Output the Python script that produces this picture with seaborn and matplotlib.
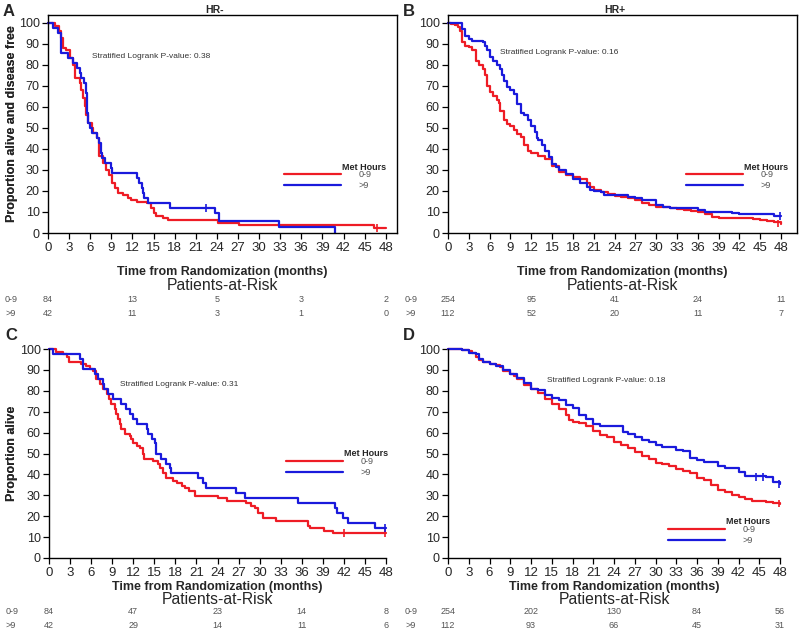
import numpy as np
import pandas as pd
import matplotlib
matplotlib.use('Agg')
import matplotlib.pyplot as plt
import matplotlib.transforms as mtransforms
import seaborn as sns

# 曲线数据（从图上读取的阶梯点：时间-月，生存比例-%）
a_red_t = [0, 1.0, 1.5, 1.8, 2.1, 2.6, 3.1, 3.5, 3.8, 4.5, 4.7, 5.0, 5.2, 5.4, 5.7, 6.2, 6.4, 6.9, 7.2, 7.3, 7.8, 8.3, 8.7,
           9.1, 9.5, 10.0, 10.7, 11.4, 11.8, 12.6, 14.0, 14.7, 15.0, 15.4, 16.4, 17.1, 24.2, 27.2, 46.4, 48]
a_red_s = [100, 98.8, 96.4, 92.9, 88.1, 86.9, 83.3, 79.8, 73.8, 71.4, 67.9, 64.3, 60.7, 56.0, 52.4, 50.0, 47.6, 45.2, 40.5,
           36.9, 33.3, 29.8, 27.4, 23.8, 21.4, 19.0, 17.9, 16.7, 15.5, 14.9, 14.3, 11.9, 9.5, 8.3, 7.1, 6.0, 4.8, 3.6, 2.4, 2.4]
a_blue_t = [0, 0.7, 1.4, 1.8, 1.9, 2.8, 3.5, 4.1, 4.5, 4.7, 5.1, 5.4, 5.5, 5.6, 5.7, 5.9, 6.3, 6.9, 7.3, 7.6, 7.7, 8.1, 9.0,
            9.1, 12.6, 13.0, 13.4, 13.5, 13.7, 14.2, 17.3, 23.8, 24.3, 32.8, 40.8]
a_blue_s = [100, 97.6, 95.2, 92.9, 85.7, 83.3, 81.0, 78.6, 76.2, 73.8, 71.4, 66.7, 61.9, 57.1, 52.4, 50.0, 47.6, 45.2, 42.9,
            38.1, 35.7, 33.3, 31.0, 28.6, 26.2, 23.8, 21.4, 19.0, 16.7, 14.3, 11.9, 9.5, 5.9, 2.9, 0]

b_red_t = [0, 0.5, 1.0, 1.5, 1.8, 2.0, 2.5, 3.0, 3.5, 4.0, 4.5, 5.0, 5.3, 5.6, 6.0, 6.5, 7.0, 7.3, 7.5, 8.0, 8.5, 9.0, 9.5,
           10.0, 10.5, 11.0, 11.5, 12.0, 13.0, 14.0, 15.0, 16.0, 17.0, 18.0, 19.0, 20.0, 20.5, 21.0, 22, 23, 24, 25, 26,
           27, 28, 29, 30, 31, 32, 33, 34, 35, 36, 37, 38, 39, 43, 44, 45, 46, 47, 48]
b_red_s = [100, 99.5, 99, 98, 96, 91, 89, 88.5, 87, 82, 80, 78, 75, 70, 67, 65, 63.5, 62, 58, 54, 52, 51, 49, 47, 45.5, 42,
           39, 38, 36.5, 35, 32, 29, 27.5, 26.5, 25.5, 24, 22, 20.5, 19.5, 18.5, 17.5, 17, 16.5, 15.5, 14.5, 13.5, 12.5,
           12.3, 12, 11.5, 11, 10.5, 10, 9, 7.5, 7.3, 7.3, 6.5, 6, 5.5, 5, 4.5]
b_blue_t = [0, 1.8, 2.0, 2.5, 3.0, 3.5, 5.0, 5.3, 5.6, 6, 6.5, 7, 7.5, 7.8, 8, 8.5, 9, 9.5, 10, 10.5, 11, 11.5, 12, 12.5,
            12.8, 13, 13.5, 14, 14.5, 15, 15.5, 16, 17, 18, 19, 20, 20.5, 21, 22, 22.5, 26, 27, 28, 30, 31, 32, 36, 37,
            41, 42, 47, 48]
b_blue_s = [100, 100, 97, 94, 92.5, 91.5, 91, 89, 87, 84, 82, 80, 78, 75, 72.5, 69.5, 68, 66, 61.5, 57, 56, 54, 51, 48,
            45, 44.5, 42, 39, 36, 33, 31.5, 30, 28, 25.5, 24, 22, 20.5, 20, 19.5, 18, 17, 16.5, 15.5, 13.5, 12.5, 12, 11,
            10, 9.5, 9, 8, 8]

c_red_t = [0, 1.0, 2.0, 2.5, 2.9, 4.6, 5.2, 5.8, 6.3, 6.7, 7.2, 7.7, 8.2, 8.6, 8.9, 9.4, 9.6, 9.8, 10.1, 10.3, 10.8, 11.5,
           11.7, 12.0, 12.5, 12.9, 13.4, 13.6, 14.8, 15.5, 15.8, 16.3, 16.7, 17.7, 18.2, 18.9, 19.3, 20.0, 20.8, 24.1,
           25.3, 28.1, 28.8, 29.3, 29.8, 30.5, 32.4, 36.9, 37.2, 39.1, 40.5, 48]
c_red_s = [100, 98.8, 97.6, 96.4, 94.0, 92.9, 91.7, 90.5, 89.3, 85.7, 83.3, 81.0, 78.6, 76.2, 73.8, 71.4, 69.0, 66.7, 64.3,
           61.9, 59.5, 58.3, 57.1, 54.8, 53.6, 52.4, 50.0, 47.6, 46.4, 45.2, 42.9, 40.5, 38.1, 36.9, 35.7, 34.5, 33.3,
           32.1, 29.8, 28.6, 27.4, 26.2, 25.0, 23.8, 21.4, 19.0, 17.9, 15.5, 14.3, 13.1, 11.9, 11.9]
c_blue_t = [0, 0.6, 4.4, 4.8, 6.5, 7.0, 7.7, 7.9, 8.4, 9.1, 10.3, 11.0, 11.5, 12.0, 12.5, 13.9, 14.1, 14.6, 15.1, 15.3,
            16.0, 16.7, 17.2, 17.4, 21.2, 21.9, 22.4, 26.7, 27.9, 35.5, 40.7, 41.0, 41.9, 42.6, 46.5, 48]
c_blue_s = [100, 97.6, 95.2, 90.5, 88.1, 85.7, 83.3, 81.0, 78.6, 76.2, 73.8, 71.4, 69.0, 66.7, 64.3, 61.9, 59.5, 57.1,
            54.8, 50.0, 47.6, 45.2, 42.9, 40.5, 38.1, 35.7, 33.3, 30.9, 28.6, 26.2, 23.8, 21.4, 19.0, 16.7, 14.3, 14.3]

d_red_t = [0, 2, 3, 3.5, 4, 4.5, 5, 6, 7, 7.5, 8, 9, 9.5, 10, 11, 12, 13, 14, 15, 16, 17, 17.5, 18, 19, 20, 21, 22, 23,
           24, 25, 26, 27, 28, 29, 30, 31, 32, 33, 34, 35, 36, 37, 38, 39, 40, 41, 42, 43, 44, 45, 46, 47, 48]
d_red_s = [100, 99.5, 99, 98, 96, 94.5, 94, 93, 92.5, 91.5, 89.5, 88, 87, 85.5, 83, 81, 79, 76, 73.5, 71.5, 68.5, 66, 65,
           64.5, 63, 61, 59, 58, 55.5, 54, 52.5, 50.5, 49, 47.5, 45.5, 44.8, 44, 42.5, 41.5, 40.5, 38.5, 37.5, 35, 32.5,
           31.5, 30, 29, 28.2, 27.5, 27.2, 27, 26.5, 26]
d_blue_t = [0, 2, 3, 4, 4.5, 5, 6, 7, 8, 9, 10, 11, 12, 13, 14, 15, 16, 17, 18, 19, 20, 21, 22, 25.3, 26, 27, 28, 29, 30,
            31, 33, 34, 35, 36, 37, 39, 40, 42, 43, 46, 47, 48]
d_blue_s = [100, 99.5, 98.2, 97.5, 95, 94, 93, 92, 90, 88, 86, 83.5, 81, 80.5, 78, 76.5, 75.5, 73, 72, 68.5, 66.5, 64,
            63, 60.5, 59.5, 58, 56.5, 55.5, 54, 53, 51.5, 51, 48, 47, 46, 44, 43, 41, 39, 38.8, 36.5, 35.5]

# 删失标记（能看清的几处）
a_cens = [[46.8], [2.4], [22.4], [11.9]]          # 红 t, 红 s, 蓝 t, 蓝 s
b_cens = [[47.5], [4.5], [47.8], [8.0]]
c_cens = [[42.0, 47.8], [11.9, 11.9], [47.8], [14.3]]
d_cens = [[47.8], [26.0], [44.5, 45.5, 47.8], [38.8, 38.8, 35.5]]

# 风险人数表
risk_t = [0, 12, 24, 36, 48]
a_risk = [[84, 13, 5, 3, 2], [42, 11, 3, 1, 0]]
b_risk = [[254, 95, 41, 24, 11], [112, 52, 20, 11, 7]]
c_risk = [[84, 47, 23, 14, 8], [42, 29, 14, 11, 6]]
d_risk = [[254, 202, 130, 84, 56], [112, 93, 66, 45, 31]]

groups = ['0-9', '>9']
pvals = ['0.38', '0.16', '0.31', '0.18']

sns.set_style('ticks')
plt.rcParams['font.family'] = ['Liberation Sans', 'DejaVu Sans']
plt.rcParams['axes.linewidth'] = 1.0

W, H = 800, 644
fig = plt.figure(figsize=(8, 6.44), dpi=100)
fx = lambda x: x / W
fy = lambda y: 1 - y / H

red, blue = '#ee1c25', '#1a1adc'
gray = '#555555'

# 每个面板：曲线、位置(px)、坐标范围、文字位置
panels = [
    dict(letter='A', title='HR-', curves=(a_red_t, a_red_s, a_blue_t, a_blue_s), cens=a_cens, risk=a_risk,
         box=(48, 397, 15, 233), xmax=49.6, ymax=103.8, full=True, ylab='Proportion alive and disease free',
         pv=(92, 57), leg=(284, 176), rows=(272, 286, 299, 313), lx=3, ly=11),
    dict(letter='B', title='HR+', curves=(b_red_t, b_red_s, b_blue_t, b_blue_s), cens=b_cens, risk=b_risk,
         box=(448, 797, 15, 233), xmax=50.3, ymax=103.8, full=True, ylab='Proportion alive and disease free',
         pv=(500, 53), leg=(686, 176), rows=(272, 286, 299, 313), lx=403, ly=11),
    dict(letter='C', title=None, curves=(c_red_t, c_red_s, c_blue_t, c_blue_s), cens=c_cens, risk=c_risk,
         box=(49, 386, 349, 558), xmax=48, ymax=100, full=False, ylab='Proportion alive',
         pv=(120, 385), leg=(286, 463), rows=(587, 599, 612, 626), lx=5, ly=335),
    dict(letter='D', title=None, curves=(d_red_t, d_red_s, d_blue_t, d_blue_s), cens=d_cens, risk=d_risk,
         box=(448, 780, 349, 558), xmax=48, ymax=100, full=False, ylab='Proportion alive',
         pv=(547, 380), leg=(668, 531), rows=(587, 599, 612, 626), lx=403, ly=335),
]

for i, p in enumerate(panels):
    l, r, t, b = p['box']
    ax = fig.add_axes([fx(l), fy(b), (r - l) / W, (b - t) / H])
    rt, rs, bt, bs = p['curves']
    df = pd.concat([pd.DataFrame({'t': rt, 's': rs, 'grp': groups[0]}),
                    pd.DataFrame({'t': bt, 's': bs, 'grp': groups[1]})])
    sns.lineplot(data=df, x='t', y='s', hue='grp', palette={groups[0]: red, groups[1]: blue},
                 drawstyle='steps-post', estimator=None, lw=1.6, legend=False, ax=ax)
    for ln in ax.get_lines():
        ln.set_clip_on(False)
    crt, crs, cbt, cbs = p['cens']
    cdf = pd.concat([pd.DataFrame({'t': crt, 's': crs, 'grp': groups[0]}),
                     pd.DataFrame({'t': cbt, 's': cbs, 'grp': groups[1]})])
    sns.scatterplot(data=cdf, x='t', y='s', hue='grp', palette={groups[0]: red, groups[1]: blue},
                    marker='|', s=30, linewidth=1.2, legend=False, ax=ax, clip_on=False)

    ax.set_xlim(0, p['xmax'])
    ax.set_ylim(0, p['ymax'])
    ax.set_xticks(range(0, 49, 3))
    ax.set_yticks(range(0, 101, 10))
    ax.tick_params(axis='x', labelsize=9.5, length=4, width=0.9, pad=2.5, color='black')
    ax.tick_params(axis='y', labelsize=9, length=4, width=0.9, pad=2, color='black')
    if p['full']:
        for s in ax.spines.values():
            s.set_visible(True)
            s.set_color('black')
    else:
        ax.spines['top'].set_visible(False)
        ax.spines['right'].set_visible(False)
        ax.spines['left'].set_color('black')
        ax.spines['bottom'].set_color('black')
        ax.spines['left'].set_bounds(0, 100)
        ax.spines['bottom'].set_bounds(0, 48)

    ax.set_xlabel('Time from Randomization (months)', fontsize=9, fontweight='bold')
    ax.xaxis.set_label_coords(0.5, (b - p['rows'][0]) / (b - t))
    ax.xaxis.label.set_va('center')
    ax.set_ylabel(p['ylab'], fontsize=9, fontweight='bold')
    ax.yaxis.set_label_coords((12 - l) / (r - l), 0.5)
    ax.yaxis.label.set_va('center')

    # 图例：线段 + 标签，标题单独放在标签上方
    lgx, lgy = p['leg']
    lg = ax.legend(ax.get_lines()[:2], groups, loc='upper left',
                   bbox_to_anchor=((lgx - l) / (r - l), (b - lgy + 6) / (b - t)), frameon=False, fontsize=6.5,
                   handlelength=6.3, handletextpad=2.0, labelspacing=0.2, borderpad=0,
                   borderaxespad=0, labelcolor=gray)
    fig.text(fx(lgx + 80), fy(lgy - 9), 'Met Hours', fontsize=6.5, fontweight='bold', ha='center', va='center')

    fig.text(fx(p['pv'][0]), fy(p['pv'][1]), 'Stratified Logrank P-value: ' + pvals[i],
             fontsize=6, color='#333333', va='center', ha='left')
    fig.text(fx(p['lx']), fy(p['ly']), p['letter'], fontsize=12, fontweight='bold', va='center', ha='left')
    if p['title']:
        fig.text(fx((l + r) / 2 - 8), fy(10), p['title'], fontsize=7.5, fontweight='bold', ha='center', va='center')

    # Patients-at-Risk 表
    fig.text(fx((l + r) / 2), fy(p['rows'][1]), 'Patients-at-Risk', fontsize=11.3, ha='center', va='center')
    trans = mtransforms.blended_transform_factory(ax.transData, fig.transFigure)
    for k, grp in enumerate(groups):
        ry = fy(p['rows'][2 + k])
        fig.text(fx(l - 43), ry, grp, fontsize=6.5, color=gray, ha='left', va='center')
        for tt, n in zip(risk_t, p['risk'][k]):
            ax.text(tt, ry, str(n), transform=trans, fontsize=6.5, color=gray, ha='center', va='center')

fig.savefig('out.png', dpi=100)
